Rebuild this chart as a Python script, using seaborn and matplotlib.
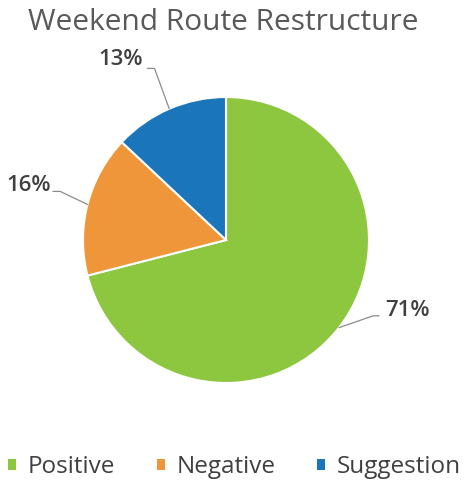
import seaborn as sns
import matplotlib.pyplot as plt
import numpy as np
from matplotlib.patches import Patch

categories = ['Positive', 'Negative', 'Suggestion']
shares = [71, 16, 13]
colors = ['#8dc63f', '#f0963a', '#1b75bb']

sns.set_theme(style='white')
plt.rcParams['font.family'] = ['Open Sans', 'DejaVu Sans']

fig = plt.figure(figsize=(4.69, 4.83), dpi=100)
ax = fig.add_axes([0, 0, 1, 1])

wedges, _ = ax.pie(shares, colors=colors, startangle=90, counterclock=False,
                   wedgeprops=dict(edgecolor='white', linewidth=1.5))

# 143 px per data unit, pie centre at (226, 240) px
scale = 143
ax.set_xlim(-226 / scale, (469 - 226) / scale)
ax.set_ylim((240 - 483) / scale, 240 / scale)
ax.set_aspect('auto')
ax.axis('off')

# label text centre, knee of leader line, end of horizontal tail
label_pos = [(1.27, -0.49), (-1.38, 0.38), (-0.74, 1.26)]
knees = [(1.03, -0.53), (-1.16, 0.34), (-0.50, 1.20)]
tails = [(1.07, -0.53), (-1.21, 0.34), (-0.55, 1.20)]

for w, val, lp, kn, tl in zip(wedges, shares, label_pos, knees, tails):
    ang = np.deg2rad((w.theta1 + w.theta2) / 2)
    ex, ey = np.cos(ang), np.sin(ang)
    ax.plot([ex, kn[0], tl[0]], [ey, kn[1], tl[1]], color='#8c8c8c', lw=0.9)
    ax.text(lp[0], lp[1], f'{val}%', ha='center', va='center',
            fontsize=16, fontweight='semibold', color='#404040')

fig.text(0.475, 0.953, 'Weekend Route Restructure', ha='center', va='center',
         fontsize=21.5, color='#595959')

handles = [Patch(facecolor=c, edgecolor='none') for c in colors]
fig.legend(handles, categories, loc='center', bbox_to_anchor=(0.5, 0.033),
           ncol=3, frameon=False, fontsize=17.5, handlelength=0.33, handleheight=0.33,
           handletextpad=0.5, columnspacing=1.7, labelcolor='#404040',
           borderpad=0.1, borderaxespad=0)

fig.savefig('out.png', dpi=100)
